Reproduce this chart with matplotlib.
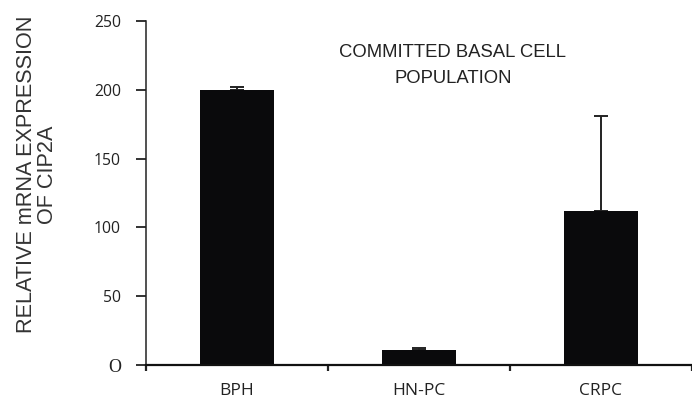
import matplotlib
matplotlib.use("Agg")
import matplotlib.pyplot as plt

categories = ["BPH", "HN-PC", "CRPC"]
values = [200, 11, 112]
errors = [2, 1.3, 69]
yticks = [0, 50, 100, 150, 200, 250]
ytick_labels = ["O", "50", "100", "150", "200", "250"]

fig = plt.figure(figsize=(6.92, 4.03), dpi=100)
ax = fig.add_axes([146/692, 1-365/403, 546/692, 344/403])

x = list(range(len(categories)))
ax.bar(x, values, width=0.405, color="#0a0a0c", zorder=2)
ax.errorbar(x, values, yerr=[[0]*len(errors), errors], fmt="none",
            ecolor="#222222", elinewidth=1.4, capsize=4.7, capthick=1.4, zorder=1)

ax.set_xlim(-0.5, 2.45)
ax.set_ylim(0, 250)
for s in ["top", "right"]:
    ax.spines[s].set_visible(False)
ax.spines["left"].set_linewidth(1.1)
ax.spines["bottom"].set_linewidth(1.6)
ax.spines["bottom"].set_color("#111111")
ax.spines["left"].set_color("#222222")

ax.set_yticks(yticks)
ax.set_yticklabels(ytick_labels)
for lab in ax.get_yticklabels():
    if lab.get_text() == "O":
        lab.set_fontfamily("Liberation Serif")
        lab.set_fontsize(13)
    else:
        lab.set_fontfamily("Open Sans")
        lab.set_fontsize(11.3)
    lab.set_color("#222222")
ax.tick_params(axis="y", direction="out", length=7, width=1.3, color="#222222", pad=11)

ax.set_xticks([-0.5, 0.5, 1.5, 2.5], minor=True)
ax.set_xticks(x)
ax.set_xticklabels(categories, fontfamily="Open Sans", fontsize=12.5, color="#222222")
ax.tick_params(axis="x", which="major", length=0, pad=13)
ax.tick_params(axis="x", which="minor", direction="out", length=4, width=1.6, color="#222222")

ax.text(-0.162, 0.553, "RELATIVE mRNA EXPRESSION\nOF CIP2A", transform=ax.transAxes,
        rotation=90, ha="right", va="center", multialignment="center",
        fontfamily="Liberation Sans", fontsize=15.6, color="#333333", linespacing=1.0)

ax.text(0.562, 0.871, "COMMITTED BASAL CELL\nPOPULATION", transform=ax.transAxes,
        ha="center", va="center", fontfamily="Liberation Sans", fontsize=13.3,
        color="#222222", linespacing=1.75)

fig.savefig("out.png", dpi=100)
